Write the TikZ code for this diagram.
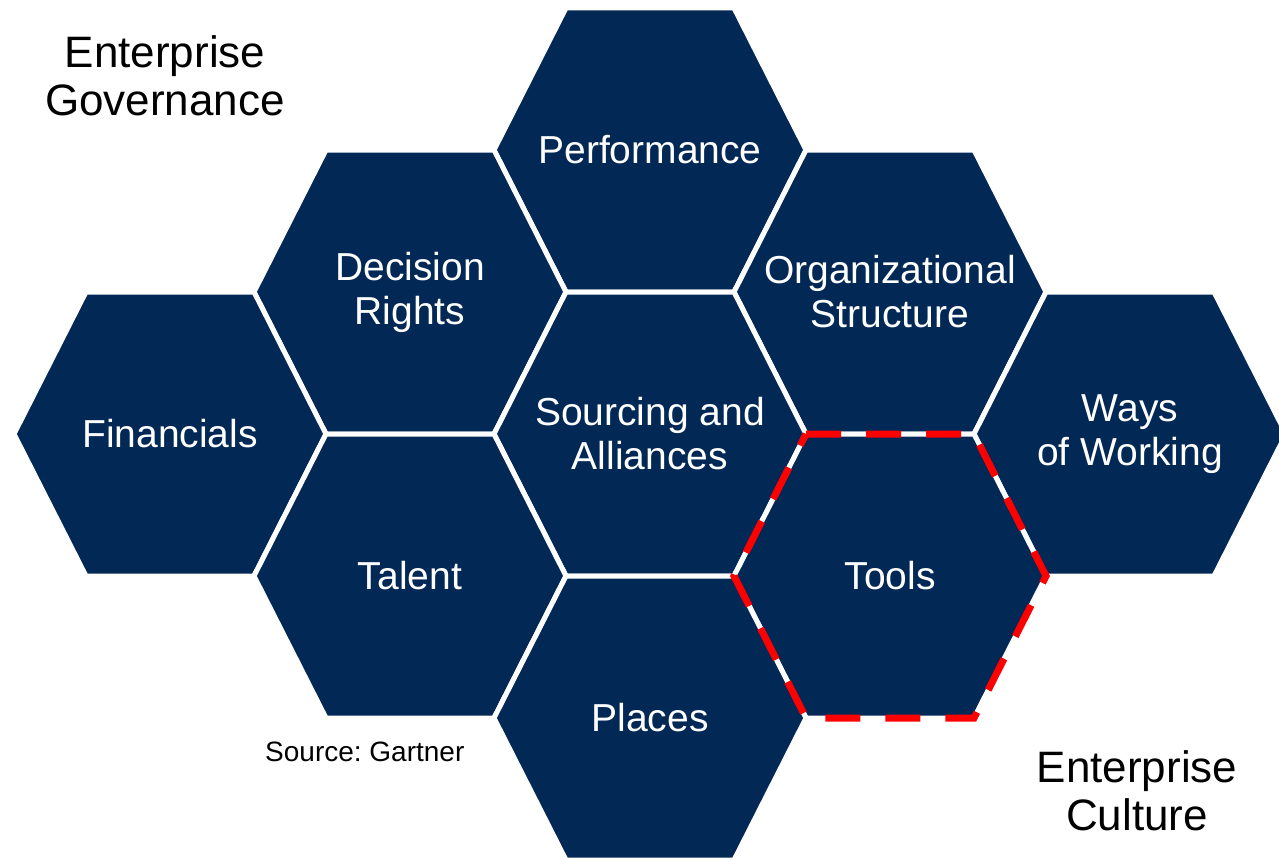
\documentclass[tikz,border=0pt]{standalone}
\usepackage{fontspec}
\setmainfont{Liberation Sans}
\frenchspacing
\definecolor{navy}{RGB}{2,40,86}
\definecolor{dashred}{RGB}{255,0,0}
\tikzset{
  hexfill/.style={fill=navy},
  hexedge/.style={draw=white, line width=5pt, line join=round},
  hexlabel/.style={text=white, align=center, font=\fontsize{39}{44}\selectfont, inner sep=0pt},
  heading/.style={text=black, align=center, font=\fontsize{44}{48}\selectfont, inner sep=0pt},
  source/.style={text=black, font=\fontsize{28}{32}\selectfont, inner sep=0pt},
  toolsdash/.style={draw=dashred, line width=7pt, dash pattern=on 35pt off 25pt, line join=miter}
}
\newcommand\hexshape[2]{(#1-84,#2-142) -- (#1+84,#2-142) -- (#1+156,#2) -- (#1+84,#2+142) -- (#1-84,#2+142) -- (#1-156,#2) -- cycle}
\newcommand\hexcell[4]{%
  \path[hexfill,hexedge] \hexshape{#2}{#3};
  \node[hexlabel] (#1) at (#2,#3) {#4};
}
\begin{document}
\begin{tikzpicture}[x=1pt,y=-1pt]
\useasboundingbox (0,0) rectangle (1279,859);
\clip (0,0) rectangle (1279,859);
\hexcell{perf}{650}{150}{Performance}
\hexcell{dec}{410}{292}{Decision\\Rights}
\hexcell{org}{890}{292}{Organizational\\Structure}
\hexcell{fin}{170}{434}{Financials}
\hexcell{src}{650}{434}{Sourcing and\\Alliances}
\hexcell{ways}{1130}{434}{Ways\\of Working}
\hexcell{tal}{410}{576}{Talent}
\hexcell{tools}{890}{576}{Tools}
\hexcell{plc}{650}{718}{Places}
\path[toolsdash] \hexshape{890}{576};
\node[heading] (gov) at (165,76) {Enterprise\\Governance};
\node[heading] (cult) at (1137,791) {Enterprise\\Culture};
\node[source, anchor=west] (srcnote) at (265,752) {Source: Gartner};
\end{tikzpicture}
\end{document}
